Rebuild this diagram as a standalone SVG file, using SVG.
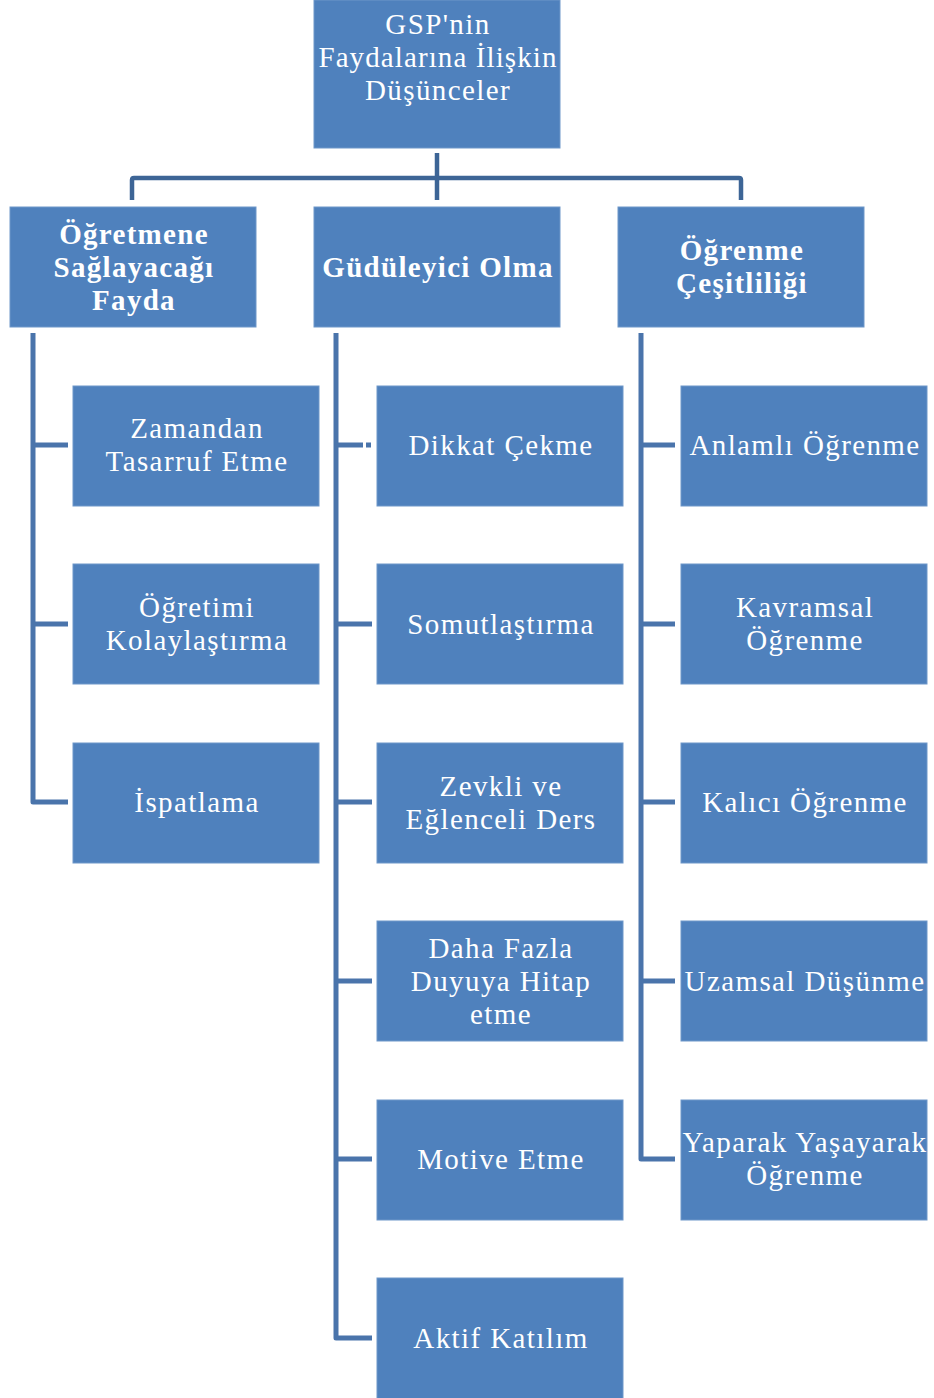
<svg xmlns="http://www.w3.org/2000/svg" width="934" height="1398" viewBox="0 0 934 1398">
<style>
.box{fill:#4F81BD;stroke:#6E97C9;stroke-width:1}
.t{font-family:"Liberation Serif","Times New Roman",serif;font-size:29px;fill:#fff;text-anchor:middle;letter-spacing:1.4px}
.b{font-weight:bold;letter-spacing:1.3px}
.c{fill:none;stroke:#4A74AB;stroke-width:5;stroke-linejoin:round}
.ct{fill:none;stroke:#3D6596;stroke-width:4.5;stroke-linejoin:round}
</style>
<g id="connectors">
<path class="ct" d="M437 153 V200"/>
<path class="ct" d="M132 200 V180 Q132 178 134 178 H739 Q741 178 741 180 V200"/>
<path class="c" d="M33 333 V802 H68 M33 445 H68 M33 624 H68"/>
<path class="c" d="M336 333 V1338 H372 M336 445 H363 M336 624 H372 M336 802 H372 M336 981 H372 M336 1159 H372"/>
<rect x="366" y="442.5" width="5" height="5" fill="#4A74AB"/>
<path class="c" d="M641 333 V1159 H675 M641 445 H675 M641 624 H675 M641 802 H675 M641 981 H675"/>
</g>
<g id="root"><rect class="box" x="314" y="0" width="246" height="148"/>
<text class="t" x="438" y="34">GSP'nin</text><text class="t" x="438" y="67" style="letter-spacing:1.1px">Faydalarına İlişkin</text><text class="t" x="438" y="100">Düşünceler</text></g>
<g id="n1"><rect class="box" x="10" y="207" width="246" height="120"/>
<text class="t b" x="134" y="244">Öğretmene</text><text class="t b" x="134" y="277">Sağlayacağı</text><text class="t b" x="134" y="310">Fayda</text></g>
<g id="n2"><rect class="box" x="314" y="207" width="246" height="120"/>
<text class="t b" x="438" y="277">Güdüleyici Olma</text></g>
<g id="n3"><rect class="box" x="618" y="207" width="246" height="120"/>
<text class="t b" x="742" y="260">Öğrenme</text><text class="t b" x="742" y="293">Çeşitliliği</text></g>
<g id="a1"><rect class="box" x="73" y="386" width="246" height="120"/>
<text class="t" x="197" y="438">Zamandan</text><text class="t" x="197" y="471">Tasarruf Etme</text></g>
<g id="a2"><rect class="box" x="73" y="564" width="246" height="120"/>
<text class="t" x="197" y="617">Öğretimi</text><text class="t" x="197" y="650">Kolaylaştırma</text></g>
<g id="a3"><rect class="box" x="73" y="743" width="246" height="120"/>
<text class="t" x="197" y="812">İspatlama</text></g>
<g id="b1"><rect class="box" x="377" y="386" width="246" height="120"/>
<text class="t" x="501" y="455">Dikkat Çekme</text></g>
<g id="b2"><rect class="box" x="377" y="564" width="246" height="120"/>
<text class="t" x="501" y="634">Somutlaştırma</text></g>
<g id="b3"><rect class="box" x="377" y="743" width="246" height="120"/>
<text class="t" x="501" y="796">Zevkli ve</text><text class="t" x="501" y="829">Eğlenceli Ders</text></g>
<g id="b4"><rect class="box" x="377" y="921" width="246" height="120"/>
<text class="t" x="501" y="958">Daha Fazla</text><text class="t" x="501" y="991">Duyuya Hitap</text><text class="t" x="501" y="1024">etme</text></g>
<g id="b5"><rect class="box" x="377" y="1100" width="246" height="120"/>
<text class="t" x="501" y="1169">Motive Etme</text></g>
<g id="b6"><rect class="box" x="377" y="1278" width="246" height="121"/>
<text class="t" x="501" y="1348">Aktif Katılım</text></g>
<g id="c1"><rect class="box" x="681" y="386" width="246" height="120"/>
<text class="t" x="805" y="455">Anlamlı Öğrenme</text></g>
<g id="c2"><rect class="box" x="681" y="564" width="246" height="120"/>
<text class="t" x="805" y="617">Kavramsal</text><text class="t" x="805" y="650">Öğrenme</text></g>
<g id="c3"><rect class="box" x="681" y="743" width="246" height="120"/>
<text class="t" x="805" y="812">Kalıcı Öğrenme</text></g>
<g id="c4"><rect class="box" x="681" y="921" width="246" height="120"/>
<text class="t" x="805" y="991">Uzamsal Düşünme</text></g>
<g id="c5"><rect class="box" x="681" y="1100" width="246" height="120"/>
<text class="t" x="805" y="1152">Yaparak Yaşayarak</text><text class="t" x="805" y="1185">Öğrenme</text></g>
</svg>
